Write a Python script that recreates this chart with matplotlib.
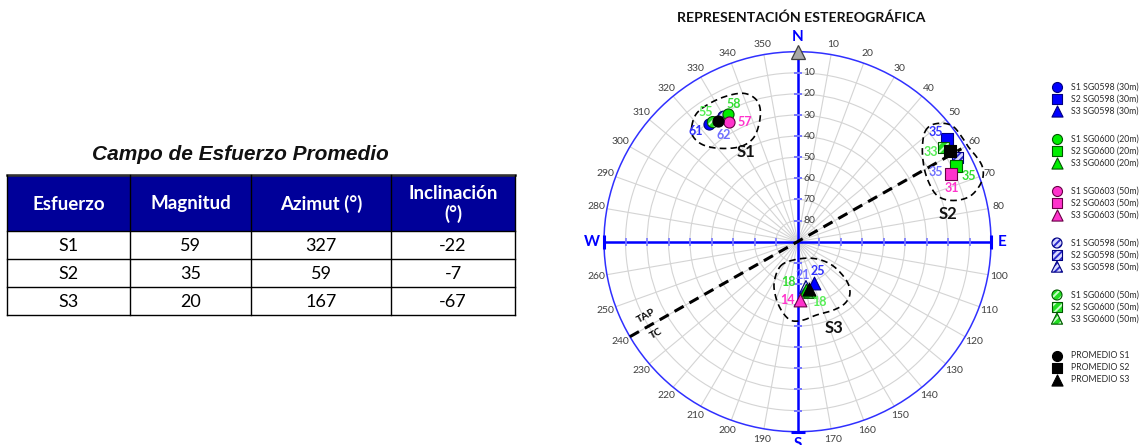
import numpy as np
import matplotlib
matplotlib.use('Agg')
import matplotlib.pyplot as plt
from matplotlib.patches import Rectangle

plt.rcParams['font.family'] = ['Lato', 'DejaVu Sans']
plt.rcParams['hatch.linewidth'] = 1.4

# ------------------------------------------------------------------ data
table_title = 'Campo de Esfuerzo Promedio'
table_columns = ['Esfuerzo', 'Magnitud', 'Azimut (°)', 'Inclinación\n(°)']
stress_names = ['S1', 'S2', 'S3']
avg_magnitude = [59, 35, 20]
avg_azimuth = [327, 59, 167]
avg_inclination = [-22, -7, -67]

sources = ['SG0598 (30m)', 'SG0600 (20m)', 'SG0603 (50m)', 'SG0598 (50m)', 'SG0600 (50m)']
s1_azimuth = [323.6, 331.7, 330.8, 329.8, 325.2]
s1_plunge = [20.9, 21.5, 24.9, 21.5, 21.0]
s1_magnitude = [61, 58, 57, 62, 55]
s2_azimuth = [55.2, 64.0, 65.8, 61.7, 56.7]
s2_plunge = [5.1, 8.0, 11.7, 5.6, 8.9]
s2_magnitude = [35, 35, 31, 35, 33]
s3_azimuth = [158.7, 170.2, 177.6, 169.6, 166.3]
s3_plunge = [68.9, 66.8, 62.4, 68.2, 65.5]
s3_magnitude = [25, 18, 14, 21, 18]

tap_azimuth = [240, 60]
tap_plunge = [0, 2]

# cluster envelopes (east, north) in plunge-distance units from centre
s1_env_e = [-49.2, -46.9, -40.7, -32.9, -25.2, -19.8, -17.4, -17.8, -20.6, -26.7, -36.0, -43.8, -48.5]
s1_env_n = [54.5, 60.8, 65.6, 69.0, 70.3, 67.9, 63.2, 56.1, 49.0, 45.0, 44.2, 45.8, 49.7]
s2_env_e = [59.3, 62.4, 67.8, 72.5, 76.4, 79.4, 82.6, 85.7, 86.4, 84.9, 81.0, 75.6, 69.4, 64.7, 61.6, 59.3, 58.2, 58.2]
s2_env_n = [52.1, 55.3, 56.1, 54.5, 49.7, 45.0, 41.1, 36.3, 31.6, 26.9, 22.1, 19.8, 19.8, 22.1, 26.9, 33.2, 40.3, 46.6]
s3_env_e = [-8.1, -2.0, 7.3, 15.9, 22.6, 24.4, 22.1, 16.7, 8.9, 2.7, -2.7, -6.6, -9.7, -10.9]
s3_env_n = [-11.8, -8.7, -7.9, -11.0, -18.1, -24.4, -29.2, -32.4, -34.7, -37.1, -37.4, -33.9, -27.6, -19.7]

# ------------------------------------------------------------------ styles
W, H = 1144, 445
fig = plt.figure(figsize=(W / 100, H / 100), dpi=100)
fig.patch.set_facecolor('white')

src_style = {
    'SG0598 (30m)': dict(face='#0000ff', edge='#000080', hatch=None, hcol=None, lab='#3333ff'),
    'SG0600 (20m)': dict(face='#00ee00', edge='#005500', hatch=None, hcol=None, lab='#33dd33'),
    'SG0603 (50m)': dict(face='#ff33cc', edge='#660044', hatch=None, hcol=None, lab='#ff33cc'),
    'SG0598 (50m)': dict(face='#d8d8ff', edge='#000080', hatch='/////', hcol='#2a2acc', lab='#6f6fff'),
    'SG0600 (50m)': dict(face='#22dd22', edge='#005500', hatch='////', hcol='#c8ffc8', lab='#55ee55'),
}
stress_marker = {'S1': 'o', 'S2': 's', 'S3': '^'}
marker_size = {'o': 64, 's': 64, '^': 85}
legend_size = {'o': 52, 's': 52, '^': 64}

# label offsets in pixels (dx, dy) for each source, per stress
label_offsets = {
    'S1': [(-14, -7), (6, 10), (16, 0), (0, -18), (-7, 10)],
    'S2': [(-12, 7), (13, -10), (1, -14), (-21, -15), (-12, -4)],
    'S3': [(4, 12), (-18, 8), (-13, 0), (-3, 12), (9, -10)],
}


def draw_marker(axx, x, y, marker, st, s, z):
    if st['hatch']:
        axx.scatter(x, y, marker=marker, s=s, facecolors=st['face'], edgecolors=st['hcol'],
                    linewidths=0, hatch=st['hatch'], zorder=z, clip_on=False)
        axx.scatter(x, y, marker=marker, s=s, facecolors='none', edgecolors=st['edge'],
                    linewidths=0.8, zorder=z + 0.01, clip_on=False)
    else:
        axx.scatter(x, y, marker=marker, s=s, facecolors=st['face'], edgecolors=st['edge'],
                    linewidths=0.8, zorder=z, clip_on=False)


def smooth_closed(e, n, k=20):
    P = np.column_stack([np.asarray(e, float), np.asarray(n, float)])
    m = len(P)
    out = []
    t = np.linspace(0, 1, k, endpoint=False)[:, None]
    for i in range(m):
        p0, p1, p2, p3 = P[(i - 1) % m], P[i], P[(i + 1) % m], P[(i + 2) % m]
        seg = 0.5 * ((2 * p1) + (-p0 + p2) * t + (2 * p0 - 5 * p1 + 4 * p2 - p3) * t ** 2
                     + (-p0 + 3 * p1 - 3 * p2 + p3) * t ** 3)
        out.append(seg)
    out.append(P[:1])
    out = np.vstack(out)
    return out[:, 0], out[:, 1]


def en_to_polar(e, n):
    e = np.asarray(e)
    n = np.asarray(n)
    return np.arctan2(e, n), np.hypot(e, n)


# ------------------------------------------------------------------ overlay axes (pixel coords)
ov = fig.add_axes([0, 0, 1, 1], zorder=3)
ov.set_xlim(0, W)
ov.set_ylim(H, 0)
ov.axis('off')

# ------------------------------------------------------------------ polar stereonet
cx, cy, Rx, Ry = 797.5, 241.7, 193.5, 190.0
ax = fig.add_axes([(cx - Rx) / W, (H - cy - Ry) / H, 2 * Rx / W, 2 * Ry / H], projection='polar', zorder=2)
ax.set_aspect('auto')
ax.set_theta_zero_location('N')
ax.set_theta_direction(-1)
ax.set_thetagrids(np.arange(0, 360, 10), labels=[])
ax.set_rgrids(np.arange(10, 90, 10), labels=[])
ax.set_ylim(0, 90)
ax.grid(True, color='#d4d4d4', lw=0.8)
ax.tick_params(length=0)
ax.spines['polar'].set_color('#3030ff')
ax.spines['polar'].set_linewidth(1.1)
ax.set_facecolor('white')

BLUE = '#0000ff'
ticks_r = np.arange(10, 90, 10)
for a in [0, 90, 180, 270]:
    th = np.deg2rad(a)
    ax.plot([th, th], [0, 90], color=BLUE, lw=1.8, zorder=3, solid_capstyle='butt')
    mk = '_' if a in (0, 180) else '|'
    ax.plot([th] * len(ticks_r), ticks_r, ls='none', marker=mk, ms=6, mew=1.2,
            color='#7a7aff', zorder=3.1)
ax.plot(np.deg2rad(90), 90, marker='|', ms=10, mew=2.2, color=BLUE, clip_on=False, zorder=3.2)
ax.plot(np.deg2rad(270), 90, marker='|', ms=10, mew=2.2, color=BLUE, clip_on=False, zorder=3.2)
ax.plot(np.deg2rad(180), 90, marker='_', ms=10, mew=2.2, color=BLUE, clip_on=False, zorder=3.2)
ax.plot(0, 90, marker='^', ms=9.5, mfc='#a8a8a8', mec='#404040', mew=0.9, clip_on=False, zorder=6)

# dip labels along north axis
for r in ticks_r:
    ax.annotate(str(90 - r), xy=(0, r), xytext=(6, 0), textcoords='offset pixels',
                ha='left', va='center', fontsize=7.5, color='#404040', zorder=4)

# azimuth labels
for a in range(0, 360, 10):
    th = np.deg2rad(a)
    if a % 90 == 0:
        continue
    ax.text(th, 95.0, str(a), ha='center', va='center', fontsize=7.5, color='#404040', clip_on=False)
for a, lab, rr in [(0, 'N', 96.8), (90, 'E', 95.2), (180, 'S', 95.6), (270, 'W', 95.8)]:
    ax.text(np.deg2rad(a), rr, lab, ha='center', va='center', fontsize=11, fontweight='bold',
            color=BLUE, clip_on=False)

# TAP / TC dashed line (two radial segments through the centre)
th_t = np.deg2rad(tap_azimuth)
r_t = 90 - np.asarray(tap_plunge)
ax.plot([th_t[0], th_t[0], th_t[1], th_t[1]], [r_t[0], 0, 0, r_t[1]], color='black', lw=2.2,
        ls=(0, (3.4, 2.2)), zorder=4, clip_on=False)

# envelopes
for e, n in [(s1_env_e, s1_env_n), (s2_env_e, s2_env_n), (s3_env_e, s3_env_n)]:
    se, sn = smooth_closed(e, n)
    th, rr = en_to_polar(se, sn)
    th = np.unwrap(th)
    ax.plot(th, rr, color='black', lw=1.2, ls=(0, (4, 2.5)), zorder=4.5, clip_on=False)

# data points
for sname, az, pl, mags in [('S1', s1_azimuth, s1_plunge, s1_magnitude),
                            ('S2', s2_azimuth, s2_plunge, s2_magnitude),
                            ('S3', s3_azimuth, s3_plunge, s3_magnitude)]:
    mk = stress_marker[sname]
    order = [0, 4, 3, 1, 2]
    for i in order:
        st = src_style[sources[i]]
        th = np.deg2rad(az[i])
        rr = 90 - pl[i]
        draw_marker(ax, [th], [rr], mk, st, marker_size[mk], 5 + order.index(i) * 0.1)
        dx, dy = label_offsets[sname][i]
        ax.annotate(str(mags[i]), xy=(th, rr), xytext=(dx, dy), textcoords='offset pixels',
                    ha='center', va='center', fontsize=9, fontweight='bold', color=st['lab'], zorder=7)

black = dict(face='#000000', edge='#000000', hatch=None, hcol=None)
for k, sname in enumerate(stress_names):
    mk = stress_marker[sname]
    draw_marker(ax, [np.deg2rad(avg_azimuth[k])], [90 - abs(avg_inclination[k])], mk, black,
                marker_size[mk], 6)

# cluster names, TAP/TC
for lab, (px, py) in zip(stress_names, [(746, 152), (948, 214), (834, 328)]):
    ov.text(px, py, lab, ha='center', va='center', fontsize=12, fontweight='bold', color='#111111')
ov.text(646, 316, 'TAP', ha='center', va='center', fontsize=7.5, fontweight='bold', rotation=29.5)
ov.text(656, 334, 'TC', ha='center', va='center', fontsize=7.5, fontweight='bold', rotation=29.5)

ov.text(801, 18, 'REPRESENTACIÓN ESTEREOGRÁFICA', ha='center', va='center', fontsize=10.2,
        fontweight='bold', color='#111111')

# ------------------------------------------------------------------ legend
rows = []
for i in [0, 1, 2, 3, 4]:
    for s in stress_names:
        rows.append((s, src_style[sources[i]], f'{s} {sources[i]}'))
for s in stress_names:
    rows.append((s, black, f'PROMEDIO {s}'))
for j, (s, st, lab) in enumerate(rows):
    g, r = divmod(j, 3)
    y = 87 + g * 52 + r * 11.8 + (9 if g == 5 else 0)
    mk = stress_marker[s]
    draw_marker(ov, [1057], [y], mk, st, legend_size[mk], 5)
    ov.text(1071, y, lab, ha='left', va='center', fontsize=6.3, color='#2a2a2a')

# ------------------------------------------------------------------ table
col_x = [7, 130, 251, 391, 515]
row_y = [175, 231, 259, 287, 315]
ov.text(240, 155, table_title, ha='center', va='center', fontsize=15,
        fontweight='bold', fontstyle='italic', color='#111111', family=['Liberation Sans', 'DejaVu Sans'])
ov.add_patch(Rectangle((col_x[0], row_y[0]), col_x[-1] - col_x[0], row_y[1] - row_y[0],
                       facecolor='#000099', edgecolor='none', zorder=1))
for c in range(4):
    xc = (col_x[c] + col_x[c + 1]) / 2
    ov.text(xc, (row_y[0] + row_y[1]) / 2 + 1, table_columns[c], ha='center', va='center', fontsize=13.5,
            fontweight='bold', color='white', linespacing=1.15, zorder=2)
cells = [stress_names, [str(v) for v in avg_magnitude], [str(v) for v in avg_azimuth],
         [str(v) for v in avg_inclination]]
for rr in range(3):
    yc = (row_y[rr + 1] + row_y[rr + 2]) / 2
    for c in range(4):
        xc = (col_x[c] + col_x[c + 1]) / 2
        ov.text(xc, yc + 1, cells[c][rr], ha='center', va='center', fontsize=13, color='black', zorder=2)
for y in row_y:
    ov.plot([col_x[0], col_x[-1]], [y, y], color='black', lw=1.0, zorder=3)
ov.plot([col_x[0], col_x[-1]], [row_y[0], row_y[0]], color='#333333', lw=1.8, zorder=3)
for x in col_x:
    ov.plot([x, x], [row_y[0], row_y[-1]], color='black', lw=1.0, zorder=3)

fig.savefig('out.png', dpi=100, facecolor='white')
